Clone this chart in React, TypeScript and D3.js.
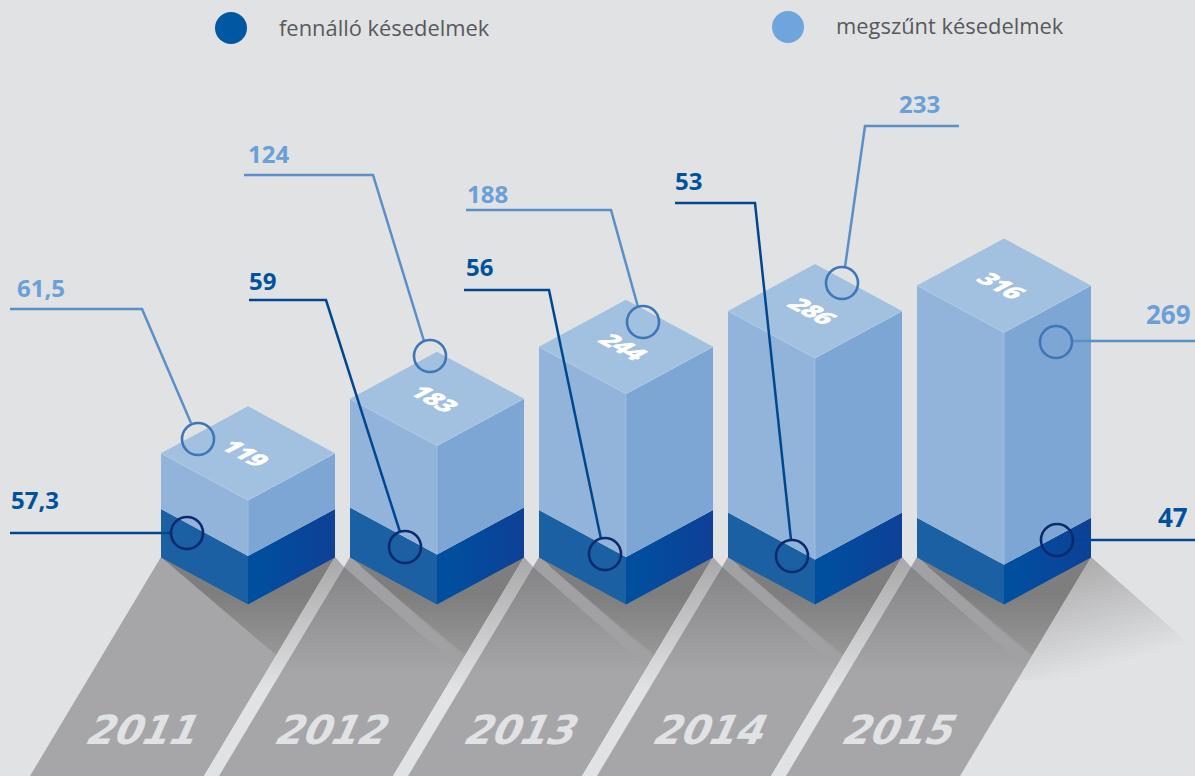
import React from 'react'
import * as d3 from 'd3'

const years = ['2011', '2012', '2013', '2014', '2015']
const totals = [119, 183, 244, 286, 316]
const fennallo = [57.3, 59, 56, 53, 47]
const fennalloLabels = ['57,3', '59', '56', '53', '47']
const megszunt = [61.5, 124, 188, 233, 269]
const legendNames = ['fennálló késedelmek', 'megszűnt késedelmek']

const width = 1195
const height = 776
const floorY = 604.5 // front corner of every box
const halfW = 87
const halfH = 47

// callout leader lines, [x, y] from the label to the ring
const lightLeaders = [
  { label: [17, 297], ring: [198, 439], path: [[10, 309], [142, 309], [191, 423]] },
  { label: [248, 163], ring: [430, 356], path: [[244, 175], [373, 175], [424, 341]] },
  { label: [467, 203], ring: [643, 322], path: [[466, 210], [611, 210], [638, 307]] },
  { label: [899, 113], ring: [842, 283], path: [[959, 126], [865, 126], [845, 267]] },
  { label: [1146, 324], ring: [1056, 342], path: [[1195, 341], [1072, 341]], size: 26 },
]
const darkLeaders = [
  { label: [11, 509], ring: [187, 533], path: [[10, 533], [171, 533]] },
  { label: [249, 290], ring: [405, 547], path: [[249, 300], [326, 300], [400, 532]] },
  { label: [466, 276], ring: [605, 554], path: [[464, 290], [549, 290], [601, 539]] },
  { label: [675, 190], ring: [792, 556], path: [[675, 203], [755, 203], [791, 540]] },
  { label: [1158, 527], ring: [1057, 540], path: [[1195, 540], [1073, 540]], size: 26 },
]

const BG = '#e1e2e4'

const x = d3.scalePoint<string>().domain(years).range([248, 1004])
const yTotal = d3.scaleLinear().domain([0, 316]).range([3, 272])
const yDark = d3.scaleLinear().domain([0, 59]).range([0, 50])

const closed = d3.line().curve(d3.curveLinearClosed)
const open = d3.line()

function Box({ i }: { i: number }) {
  const c = x(years[i]) as number
  const top = floorY - yTotal(totals[i])
  const mid = floorY - yDark(fennallo[i])
  const face = (y0: number, y1: number, side: number) =>
    closed([[c, y0], [c + side * halfW, y0 - halfH], [c + side * halfW, y1 - halfH], [c, y1]]) as string
  return (
    <g>
      <path d={face(floorY, mid, -1)} fill="#1a60a3" />
      <path d={face(floorY, mid, 1)} fill="url(#darkRight)" />
      <path d={face(mid, top, -1)} fill="#92b4db" />
      <path d={face(mid, top, 1)} fill="#7ea6d4" />
      <path
        d={closed([[c, top], [c - halfW, top - halfH], [c, top - 2 * halfH], [c + halfW, top - halfH]]) as string}
        fill="#a2c0df"
      />
      <path
        d={open([[c - halfW, top - halfH], [c, top], [c + halfW, top - halfH]]) as string}
        fill="none"
        stroke="#b3cde8"
        strokeWidth={0.7}
      />
      <path d={open([[c, top], [c, mid]]) as string} stroke="#a5c1e2" strokeWidth={0.7} />
      <text
        transform={`matrix(0.87 0.47 -0.87 0.47 ${c - 3} ${top - halfH})`}
        textAnchor="middle"
        dy="0.36em"
        fontFamily="'Open Sans', sans-serif"
        fontWeight={800}
        fontSize={26}
        letterSpacing={-1}
        fill="#fff"
      >
        {totals[i]}
      </text>
    </g>
  )
}

function Ground({ i }: { i: number }) {
  const c = x(years[i]) as number
  const base = 557
  const left = i === 0 ? [c - halfW, base] : [c - 93, base + 10]
  return (
    <g>
      <path
        d={closed([left as [number, number], [c - 218, height], [c - 44, height], [c + halfW, base]]) as string}
        fill={i === 0 ? '#a6a6a8' : 'url(#strip)'}
      />
      {i > 0 && (
        <path
          d={closed([[c - halfW, base], [c - 93, base + 10], [c + 21, 667], [c + 25, 655]]) as string}
          fill="#a1a1a3"
        />
      )}
      <path
        d={closed([[c - halfW, base], [c, floorY], [c + halfW, base], [c + 28, 655]]) as string}
        fill="url(#shadow)"
      />
      {/* light gap on the right of each strip */}
      {i < years.length - 1 && (
        <path
          d={closed([[c + halfW, base], [c + 96, base + 10], [c - 29, height], [c - 44, height]]) as string}
          fill="url(#gap)"
        />
      )}
    </g>
  )
}

function Leader({ leader, text, line, ring, fill }: any) {
  return (
    <g>
      <path d={open(leader.path) as string} fill="none" stroke={line} strokeWidth={2.5} />
      <circle cx={leader.ring[0]} cy={leader.ring[1]} r={16} fill="none" stroke={ring} strokeWidth={2.6} />
      <text
        x={leader.label[0]}
        y={leader.label[1]}
        fontFamily="'Open Sans', sans-serif"
        fontWeight={700}
        fontSize={leader.size || 24}
        fill={fill}
      >
        {text}
      </text>
    </g>
  )
}

export default function App() {
  const lastC = x(years[4]) as number
  return (
    <svg
      width={width}
      height={height}
      viewBox={`0 0 ${width} ${height}`}
      style={{ position: 'absolute', left: 0, top: 0, display: 'block', background: BG }}
    >
      <defs>
        <linearGradient id="darkRight" x1="0" x2="1" y1="0" y2="0">
          <stop offset="0.1" stopColor="#004f9f" />
          <stop offset="1" stopColor="#0e4097" />
        </linearGradient>
        <linearGradient id="strip" gradientUnits="userSpaceOnUse" x1="0" x2="0" y1="567" y2="675">
          <stop offset="0" stopColor="#858587" />
          <stop offset="1" stopColor="#a6a6a8" />
        </linearGradient>
        <linearGradient id="shadow" gradientUnits="userSpaceOnUse" x1="0" x2="0" y1="595" y2="665">
          <stop offset="0" stopColor="#7e7e7e" />
          <stop offset="1" stopColor="#9c9c9d" />
        </linearGradient>
        <linearGradient id="gap" gradientUnits="userSpaceOnUse" x1="0" x2="0" y1="557" y2="690">
          <stop offset="0" stopColor="#a8a8a9" />
          <stop offset="1" stopColor={BG} />
        </linearGradient>
        <linearGradient id="fade" gradientUnits="userSpaceOnUse" x1="1085" x2="1115" y1="560" y2="665">
          <stop offset="0" stopColor="#acacad" />
          <stop offset="1" stopColor={BG} />
        </linearGradient>
      </defs>

      <path
        d={closed([[lastC + halfW, 557], [lastC + 182, 641], [lastC + 60, 680], [lastC + 14, 680]]) as string}
        fill="url(#fade)"
      />
      {years.map((y, i) => <Ground key={y} i={i} />)}
      {years.map(y => (
        <text
          key={y}
          transform={`translate(${(x(y) as number) - 107} 744) skewX(-14)`}
          textAnchor="middle"
          fontFamily="'DejaVu Sans', sans-serif"
          fontWeight={700}
          fontStyle="italic"
          fontSize={40}
          letterSpacing={-0.5}
          fill={BG}
        >
          {y}
        </text>
      ))}
      {years.map((y, i) => <Box key={y} i={i} />)}

      {lightLeaders.map((l, i) => (
        <Leader key={i} leader={l} text={String(megszunt[i]).replace('.', ',')} line="#5a8fc8" ring="#3f76b8" fill="#6a9fd8" />
      ))}
      {darkLeaders.map((l, i) => (
        <Leader key={i} leader={l} text={fennalloLabels[i]} line="#00478f" ring="#0b2a6e" fill="#00529f" />
      ))}

      <circle cx={231} cy={28} r={16} fill="#0058a3" />
      <circle cx={788} cy={27} r={16} fill="#6fa5dc" />
      <text x={279} y={36} fontFamily="'Open Sans', sans-serif" fontSize={21.9} fill="#58595b">{legendNames[0]}</text>
      <text x={836} y={34} fontFamily="'Open Sans', sans-serif" fontSize={21.9} fill="#58595b">{legendNames[1]}</text>
    </svg>
  )
}
